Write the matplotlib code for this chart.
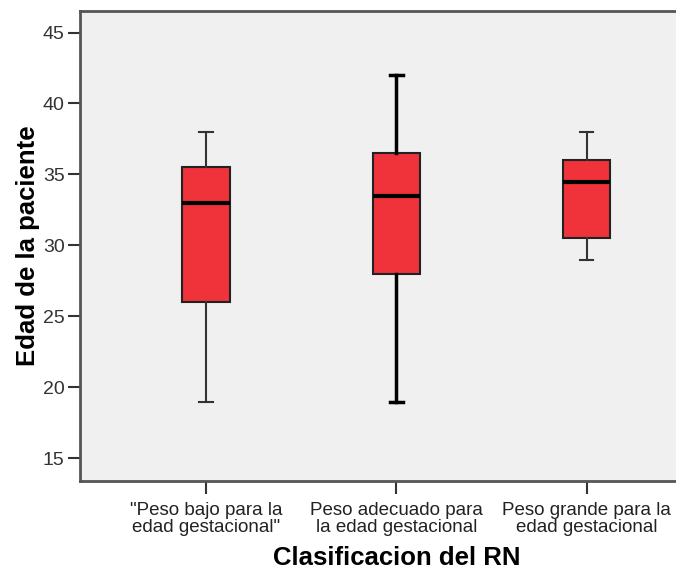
import matplotlib.pyplot as plt

# Box statistics
categories = ['"Peso bajo para la\nedad gestacional"',
              'Peso adecuado para\nla edad gestacional',
              'Peso grande para la\nedad gestacional']
whislo = [19, 19, 29]
q1 = [26, 28, 30.5]
med = [33, 33.5, 34.5]
q3 = [35.5, 36.5, 36]
whishi = [38, 42, 38]

plt.rcParams['font.family'] = ['Liberation Sans', 'DejaVu Sans']

fig = plt.figure(figsize=(6.76, 5.73), dpi=100)
ax = fig.add_axes([0.118, 0.1606, 0.882, 0.821])
ax.set_facecolor('#f0f0f0')

stats = []
for i in range(len(categories)):
    stats.append({'whislo': whislo[i], 'q1': q1[i], 'med': med[i],
                  'q3': q3[i], 'whishi': whishi[i], 'fliers': []})

positions = [1, 2, 3]
bp = ax.bxp(stats, positions=positions, widths=0.25, patch_artist=True,
            showfliers=False,
            boxprops=dict(facecolor='#f0323a', edgecolor='#222222', linewidth=1.5),
            medianprops=dict(color='black', linewidth=3),
            whiskerprops=dict(color='#333333', linewidth=1.5),
            capprops=dict(color='#333333', linewidth=1.5))
# middle box drawn with heavier whiskers in the original
for ln in bp['whiskers'][2:4] + bp['caps'][2:4]:
    ln.set_color('black')
    ln.set_linewidth(2.5)
for c in bp['caps']:
    x0, x1 = c.get_xdata()
    xm = (x0 + x1) / 2
    c.set_xdata([xm - 0.035, xm + 0.035])

ax.set_xlim(0.336, 3.47)
ax.set_ylim(13.4, 46.55)
ax.set_yticks([15, 20, 25, 30, 35, 40, 45])
ax.set_xticks(positions)
ax.set_xticklabels(categories, fontsize=13.5, color='#222222', linespacing=1.0)
ax.tick_params(axis='y', labelsize=14, colors='#333333', length=9, width=1.5, pad=2)
ax.tick_params(axis='x', length=9, width=1.5, color='#333333', pad=6)

for s in ['right']:
    ax.spines[s].set_visible(False)
for s in ['left', 'top', 'bottom']:
    ax.spines[s].set_color('#555555')
    ax.spines[s].set_linewidth(2)

ax.set_ylabel('Edad de la paciente', fontsize=18.5, fontweight='bold', labelpad=2)
ax.set_xlabel('Clasificacion del RN', fontsize=18.5, fontweight='bold')
ax.xaxis.set_label_coords(0.532, -0.138)

fig.savefig('out.png', dpi=100)
